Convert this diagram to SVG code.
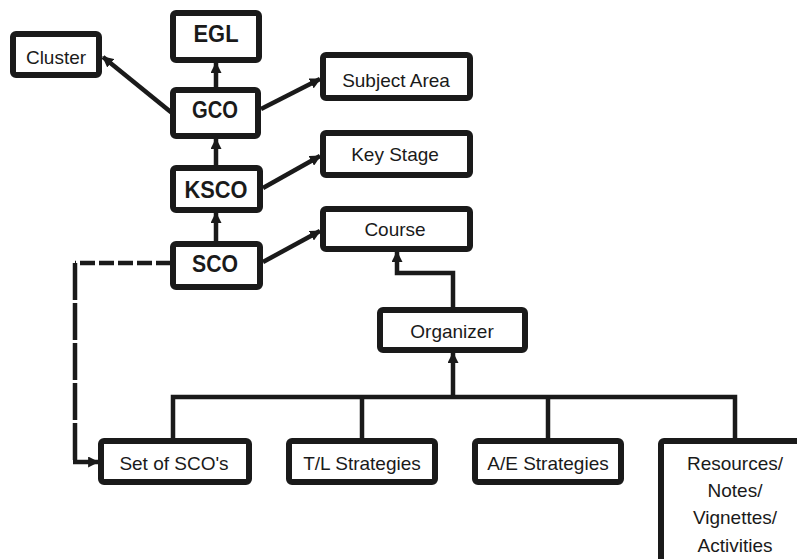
<svg xmlns="http://www.w3.org/2000/svg" width="797" height="559" viewBox="0 0 797 559">
<style>
.box{fill:#fff;stroke:#1a1a1a;stroke-width:6}
.t{font-family:"Liberation Sans",Arial,sans-serif;font-size:19px;fill:#1a1a1a;text-anchor:middle}
.b{font-family:"Liberation Sans",Arial,sans-serif;font-size:23px;font-weight:bold;fill:#1a1a1a;text-anchor:middle}
.c{fill:none;stroke:#1a1a1a;stroke-width:4.5}
</style>
<defs>
<marker id="ah" viewBox="0 0 10 10" refX="9" refY="5" markerUnits="userSpaceOnUse" markerWidth="11" markerHeight="11" orient="auto">
<path d="M0,0 L10,5 L0,10 z" fill="#1a1a1a"/>
</marker>
</defs>
<rect width="797" height="559" fill="#fff"/>
<g id="connectors">
<line class="c" x1="216" y1="88" x2="216" y2="63" marker-end="url(#ah)"/>
<line class="c" x1="172" y1="113" x2="103" y2="57" marker-end="url(#ah)"/>
<line class="c" x1="261" y1="109" x2="320" y2="79" marker-end="url(#ah)"/>
<line class="c" x1="216" y1="166" x2="216" y2="139" marker-end="url(#ah)"/>
<line class="c" x1="263" y1="188" x2="320" y2="156" marker-end="url(#ah)"/>
<line class="c" x1="216" y1="242" x2="216" y2="213" marker-end="url(#ah)"/>
<line class="c" x1="263" y1="262" x2="320" y2="231" marker-end="url(#ah)"/>
<path class="c" d="M453,308 V273 H397 V252" marker-end="url(#ah)"/>
<path class="c" d="M453,397 V353" marker-end="url(#ah)"/>
<path class="c" d="M173,439 V397 H735 V439"/>
<path class="c" d="M362,397 V439"/>
<path class="c" d="M548,397 V439"/>
<path class="c" d="M171,263 H75" stroke-dasharray="15,4"/>
<path class="c" d="M75,263 V462" stroke-dasharray="37,3"/>
<path class="c" d="M73,462 H98" marker-end="url(#ah)"/>
</g>
<g id="egl"><rect class="box" x="173" y="13" width="86" height="47" rx="3"/><text class="b" x="216" y="42" textLength="45" lengthAdjust="spacingAndGlyphs">EGL</text></g>
<g id="cluster"><rect class="box" x="13" y="34" width="86" height="41" rx="3"/><text class="t" x="56" y="64">Cluster</text></g>
<g id="gco"><rect class="box" x="173" y="90" width="85" height="46" rx="3"/><text class="b" x="215" y="118" textLength="46" lengthAdjust="spacingAndGlyphs">GCO</text></g>
<g id="subject-area"><rect class="box" x="323" y="55" width="147" height="43" rx="3"/><text class="t" x="396" y="87">Subject Area</text></g>
<g id="ksco"><rect class="box" x="173" y="168" width="87" height="42" rx="3"/><text class="b" x="216" y="198" textLength="63" lengthAdjust="spacingAndGlyphs">KSCO</text></g>
<g id="key-stage"><rect class="box" x="323" y="133" width="147" height="42" rx="3"/><text class="t" x="395" y="161">Key Stage</text></g>
<g id="sco"><rect class="box" x="173" y="244" width="87" height="43" rx="3"/><text class="b" x="215" y="272" textLength="46" lengthAdjust="spacingAndGlyphs">SCO</text></g>
<g id="course"><rect class="box" x="323" y="209" width="147" height="40" rx="3"/><text class="t" x="395" y="236">Course</text></g>
<g id="organizer"><rect class="box" x="380" y="310" width="145" height="40" rx="3"/><text class="t" x="452" y="338">Organizer</text></g>
<g id="set-of-scos"><rect class="box" x="101" y="441" width="148" height="41" rx="3"/><text class="t" x="174" y="470">Set of SCO's</text></g>
<g id="tl-strategies"><rect class="box" x="289" y="441" width="146" height="41" rx="3"/><text class="t" x="362" y="470">T/L Strategies</text></g>
<g id="ae-strategies"><rect class="box" x="475" y="441" width="146" height="41" rx="3"/><text class="t" x="548" y="470">A/E Strategies</text></g>
<g id="resources"><rect class="box" x="661" y="441" width="145" height="130" rx="3"/>
<text class="t" x="735" y="470">Resources/</text>
<text class="t" x="735" y="497">Notes/</text>
<text class="t" x="735" y="524">Vignettes/</text>
<text class="t" x="735" y="552">Activities</text></g>
</svg>
